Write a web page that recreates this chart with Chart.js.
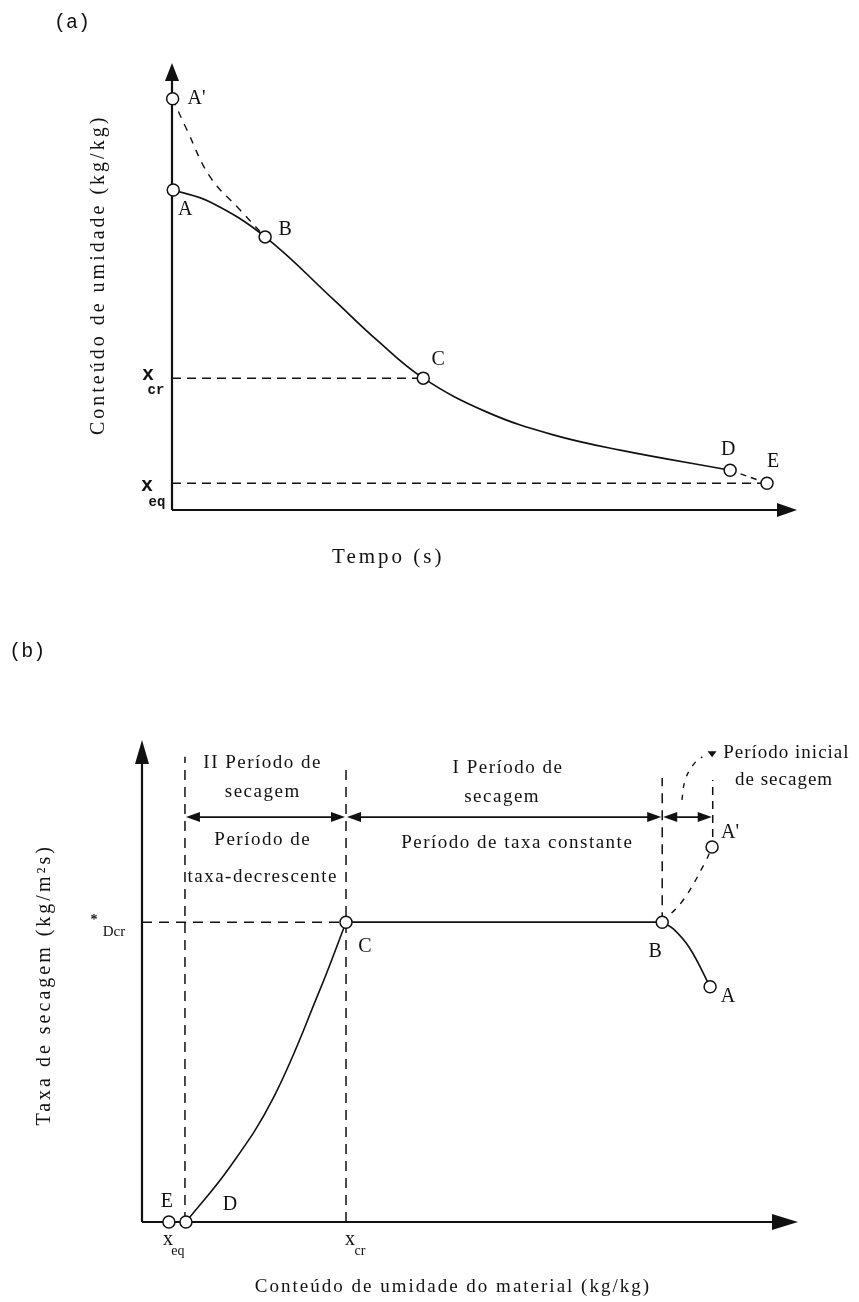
<!DOCTYPE html>
<html>
<head>
<meta charset="utf-8">
<title>Curvas de secagem</title>
<script src="https://cdn.jsdelivr.net/npm/chart.js@4/dist/chart.umd.min.js"></script>
<style>
  html, body { margin: 0; padding: 0; background: #fff; }
  #page { position: relative; width: 859px; height: 1302px; overflow: hidden; }
  #page canvas { position: absolute; left: 0; }
</style>
</head>
<body>
<div id="page">
  <canvas id="chartA" width="859" height="600" style="top:0"></canvas>
  <canvas id="chartB" width="859" height="702" style="top:600px"></canvas>
</div>
<script>
// ---------- (a) moisture content X versus drying time (arbitrary units, 0-100) ----------
const dryTime     = [0.2, 6.1, 14.9, 25.9, 32.8, 40.2, 50.4, 61.0, 71.7, 89.3];
const dryMoisture = [71.6, 68.9, 61.1, 47.0, 38.0, 29.5, 21.9, 16.8, 13.4, 8.9];
// warm-up path A' -> B (dashed)
const warmTime     = [0.1, 2.4, 6.1, 10.9, 14.9];
const warmMoisture = [92.0, 85.0, 74.5, 67.1, 61.1];
// tail D -> E (dashed)
const tailTime     = [89.3, 95.2];
const tailMoisture = [8.9, 6.0];
// named states on the drying curve
const stateNamesA   = ["A'", "A", "B", "C", "D", "E"];
const stateTimeA    = [0.1, 0.2, 14.9, 40.2, 89.3, 95.2];
const stateMoistA   = [92.0, 71.6, 61.1, 29.5, 8.9, 6.0];
const xCritical = 29.5;   // X_cr
const xEquil    = 6.0;    // X_eq

// ---------- (b) drying rate versus moisture content (arbitrary units, 0-100) ----------
const fallX    = [6.7, 13.4, 20.0, 27.1, 31.1];
const fallRate = [0, 11.4, 25.7, 48.1, 62.2];
const constX    = [31.1, 79.3];
const constRate = [62.2, 62.2];
const startX    = [79.3, 81.0, 83.5, 86.6];
const startRate = [62.2, 60.8, 56.8, 48.8];
const hotStartX    = [79.3, 82.5, 85.8, 86.9];
const hotStartRate = [62.2, 66.8, 74.5, 77.8];
const leaderX    = [82.3, 82.8, 84.0, 85.4];
const leaderRate = [87.6, 91.7, 94.8, 96.5];
const stateNamesB = ["E", "D", "C", "B", "A", "A'"];
const stateXB     = [4.1, 6.7, 31.1, 79.3, 86.6, 86.9];
const stateRateB  = [0, 0, 62.2, 62.2, 48.8, 77.8];
const xEqB = 6.55, xCrB = 31.1, xB = 79.3, xInit = 87.0;
const rateCritical = 62.2;  // w_Dcr
const spanLevel = 84.0;     // level of the period arrows

const INK = '#111';
const SERIF = '"Liberation Serif", "Times New Roman", serif';
const MONO = '"Liberation Mono", "Courier New", monospace';

function pts(xs, ys) { return xs.map((x, i) => ({ x: x, y: ys[i] })); }

function lineSet(xs, ys, dash, width) {
  return {
    data: pts(xs, ys), showLine: true, borderColor: INK, borderWidth: width || 1.6,
    borderDash: dash || [], pointRadius: 0, pointHoverRadius: 0,
    tension: 0.4, clip: false, fill: false, order: 2
  };
}
function markerSet(xs, ys, r) {
  return {
    data: pts(xs, ys), showLine: false, pointStyle: 'circle', pointRadius: r,
    pointHoverRadius: r, pointBackgroundColor: '#fff', pointBorderColor: INK,
    pointBorderWidth: 1.5, clip: false, order: 0
  };
}

function arrowHead(ctx, tx, ty, dx, dy, len, half) {
  const n = Math.hypot(dx, dy); dx /= n; dy /= n;
  const bx = tx - dx * len, by = ty - dy * len;
  ctx.beginPath();
  ctx.moveTo(tx, ty);
  ctx.lineTo(bx - dy * half, by + dx * half);
  ctx.lineTo(bx + dy * half, by - dx * half);
  ctx.closePath();
  ctx.fill();
}

function drawText(ctx, t, x, y, font, opt) {
  opt = opt || {};
  ctx.save();
  ctx.font = font;
  ctx.fillStyle = INK;
  ctx.letterSpacing = (opt.ls || 0) + 'px';
  ctx.textAlign = opt.align || 'center';
  ctx.textBaseline = 'middle';
  ctx.translate(x, y);
  if (opt.rot) ctx.rotate(opt.rot);
  ctx.fillText(t, 0, 0);
  ctx.restore();
}

// Axes, guide arrows and text annotations, placed through each chart's scales
const sketchPlugin = {
  id: 'sketch',
  beforeDatasetsDraw(chart) {
    const o = chart.options.plugins.sketch;
    const ctx = chart.ctx, sx = chart.scales.x, sy = chart.scales.y;
    const px = v => sx.getPixelForValue(v), py = v => sy.getPixelForValue(v);
    ctx.save();
    ctx.strokeStyle = INK; ctx.fillStyle = INK; ctx.lineCap = 'butt';
    // straight dashed guides
    (o.guides || []).forEach(g => {
      ctx.save();
      ctx.lineWidth = g.w || 1.5;
      ctx.setLineDash(g.dash || [9, 6]);
      ctx.beginPath();
      ctx.moveTo(px(g.x1), py(g.y1));
      ctx.lineTo(px(g.x2), py(g.y2));
      ctx.stroke();
      ctx.restore();
    });
    // axes with arrow tips
    const a = o.axes;
    ctx.lineWidth = a.w;
    ctx.beginPath();
    ctx.moveTo(px(0), py(0)); ctx.lineTo(px(0), py(100) + a.yLen * 0.6);
    ctx.moveTo(px(0), py(0)); ctx.lineTo(px(100) - a.xLen * 0.6, py(0));
    ctx.stroke();
    arrowHead(ctx, px(0), py(100), 0, -1, a.yLen, a.yHalf);
    arrowHead(ctx, px(100), py(0), 1, 0, a.xLen, a.xHalf);
    // double-headed span arrows
    (o.spans || []).forEach(s => {
      const y = py(s.y), x1 = px(s.x1), x2 = px(s.x2);
      ctx.lineWidth = 1.6;
      ctx.beginPath(); ctx.moveTo(x1 + 6, y); ctx.lineTo(x2 - 6, y); ctx.stroke();
      arrowHead(ctx, x1 + 1, y, -1, 0, 14, 5);
      arrowHead(ctx, x2 - 1, y, 1, 0, 14, 5);
    });
    (o.heads || []).forEach(h => arrowHead(ctx, px(h.x), py(h.y), h.dx, h.dy, h.len, h.half));
    ctx.restore();
  },
  afterDatasetsDraw(chart) {
    const o = chart.options.plugins.sketch;
    const ctx = chart.ctx, sx = chart.scales.x, sy = chart.scales.y;
    const px = v => sx.getPixelForValue(v), py = v => sy.getPixelForValue(v);
    // state letters next to their markers
    o.states.names.forEach((n, i) => {
      const off = o.states.offsets[i];
      drawText(ctx, n, px(o.states.xs[i]) + off[0], py(o.states.ys[i]) + off[1], o.states.font);
    });
    (o.texts || []).forEach(t => {
      drawText(ctx, t.t, px(t.x) + (t.dx || 0), py(t.y) + (t.dy || 0), t.font, t);
    });
  }
};

const baseOptions = (padding, sketch) => ({
  responsive: false, animation: false, events: [],
  layout: { padding: padding },
  scales: {
    x: { type: 'linear', min: 0, max: 100, display: false },
    y: { type: 'linear', min: 0, max: 100, display: false }
  },
  plugins: { legend: { display: false }, tooltip: { enabled: false }, sketch: sketch }
});

// ---------- chart (a) ----------
new Chart(document.getElementById('chartA'), {
  type: 'scatter',
  data: {
    datasets: [
      markerSet(stateTimeA, stateMoistA, 6),
      lineSet(dryTime, dryMoisture, [], 1.7),
      lineSet(warmTime, warmMoisture, [7, 7], 1.4),
      lineSet(tailTime, tailMoisture, [6, 5], 1.4)
    ]
  },
  options: baseOptions({ left: 172, right: 62, top: 63, bottom: 90 }, {
    axes: { w: 2.2, yLen: 18, yHalf: 7, xLen: 20, xHalf: 7 },
    guides: [
      { x1: 0, y1: xCritical, x2: stateTimeA[3], y2: xCritical, dash: [9, 6] },
      { x1: 0, y1: xEquil, x2: stateTimeA[5], y2: xEquil, dash: [9, 6] }
    ],
    states: {
      names: stateNamesA, xs: stateTimeA, ys: stateMoistA,
      offsets: [[24, 0], [12, 20], [20, -7], [15, -18], [-2, -20], [6, -21]],
      font: '20px ' + SERIF
    },
    texts: [
      { t: '(a)', x: -16, y: 109, font: '20px ' + MONO },
      { t: 'x', x: 0, y: xCritical, dx: -24, dy: -3, font: 'bold 20px ' + MONO },
      { t: 'cr', x: 0, y: xCritical, dx: -16, dy: 12, font: 'bold 14px ' + MONO },
      { t: 'x', x: 0, y: xEquil, dx: -25, dy: 3, font: 'bold 20px ' + MONO },
      { t: 'eq', x: 0, y: xEquil, dx: -15, dy: 19, font: 'bold 14px ' + MONO },
      { t: 'Conteúdo de umidade (kg/kg)', x: -11.8, y: 52.6, font: '20px ' + SERIF, ls: 3, rot: -Math.PI / 2 },
      { t: 'Tempo (s)', x: 34.6, y: -10.7, font: '21px ' + SERIF, ls: 3 }
    ]
  }),
  plugins: [sketchPlugin]
});

// ---------- chart (b) ----------
new Chart(document.getElementById('chartB'), {
  type: 'scatter',
  data: {
    datasets: [
      markerSet(stateXB, stateRateB, 6),
      lineSet(fallX, fallRate, [], 1.6),
      lineSet(constX, constRate, [], 1.8),
      lineSet(startX, startRate, [], 1.6),
      lineSet(hotStartX, hotStartRate, [6, 7], 1.4),
      lineSet(leaderX, leaderRate, [5, 7], 1.4)
    ]
  },
  options: baseOptions({ left: 142, right: 61, top: 140, bottom: 80 }, {
    axes: { w: 2.2, yLen: 24, yHalf: 7, xLen: 26, xHalf: 8 },
    guides: [
      { x1: 0, y1: rateCritical, x2: xCrB, y2: rateCritical, dash: [10, 7] },
      { x1: xEqB, y1: 0, x2: xEqB, y2: 96.5, dash: [10, 7] },
      { x1: xCrB, y1: 0, x2: xCrB, y2: 95.2, dash: [10, 7] },
      { x1: xB, y1: rateCritical, x2: xB, y2: 92.1, dash: [10, 7] },
      { x1: xInit, y1: 79.9, x2: xInit, y2: 91.7, dash: [8, 6] }
    ],
    spans: [
      { x1: xEqB, x2: xCrB, y: spanLevel },
      { x1: xCrB, x2: xB, y: spanLevel },
      { x1: xB, x2: xInit, y: spanLevel }
    ],
    heads: [{ x: xInit - 0.1, y: 96.4, dx: 0, dy: 1, len: 6, half: 4.5 }],
    states: {
      names: stateNamesB, xs: stateXB, ys: stateRateB,
      offsets: [[-2, -20], [44, -17], [19, 25], [-7, 30], [18, 10], [18, -14]],
      font: '20px ' + SERIF
    },
    texts: [
      { t: '(b)', x: -17.5, y: 118.3, font: '20px ' + MONO },
      { t: 'II Período de', x: 18.4, y: 95.2, font: '19px ' + SERIF, ls: 1.5 },
      { t: 'secagem', x: 18.4, y: 89.2, font: '19px ' + SERIF, ls: 1.5 },
      { t: 'Período de', x: 18.4, y: 79.3, font: '19px ' + SERIF, ls: 1.5 },
      { t: 'taxa-decrescente', x: 18.4, y: 71.6, font: '19px ' + SERIF, ls: 1.5 },
      { t: 'I Período de', x: 55.8, y: 94.2, font: '19px ' + SERIF, ls: 1.5 },
      { t: 'secagem', x: 54.9, y: 88.2, font: '19px ' + SERIF, ls: 1.5 },
      { t: 'Período de taxa constante', x: 57.2, y: 78.6, font: '19px ' + SERIF, ls: 1.5 },
      { t: 'Período inicial', x: 88.6, y: 97.3, font: '19px ' + SERIF, ls: 1, align: 'left' },
      { t: 'de secagem', x: 90.4, y: 91.7, font: '19px ' + SERIF, ls: 1, align: 'left' },
      { t: '*', x: 0, y: rateCritical, dx: -48, dy: -2, font: 'bold 14px ' + SERIF },
      { t: 'Dcr', x: 0, y: rateCritical, dx: -28, dy: 10, font: '15px ' + SERIF },
      { t: 'x', x: xEqB, y: 0, dx: -17, dy: 18, font: '20px ' + SERIF },
      { t: 'eq', x: xEqB, y: 0, dx: -7, dy: 29, font: '14px ' + SERIF },
      { t: 'x', x: xCrB, y: 0, dx: 4, dy: 18, font: '20px ' + SERIF },
      { t: 'cr', x: xCrB, y: 0, dx: 14, dy: 29, font: '14px ' + SERIF },
      { t: 'Taxa de secagem (kg/m²s)', x: -14.9, y: 49.2, font: '20px ' + SERIF, ls: 3, rot: -Math.PI / 2 },
      { t: 'Conteúdo de umidade do material (kg/kg)', x: 47.4, y: -13.5, font: '19px ' + SERIF, ls: 2 }
    ]
  }),
  plugins: [sketchPlugin]
});
</script>
</body>
</html>
